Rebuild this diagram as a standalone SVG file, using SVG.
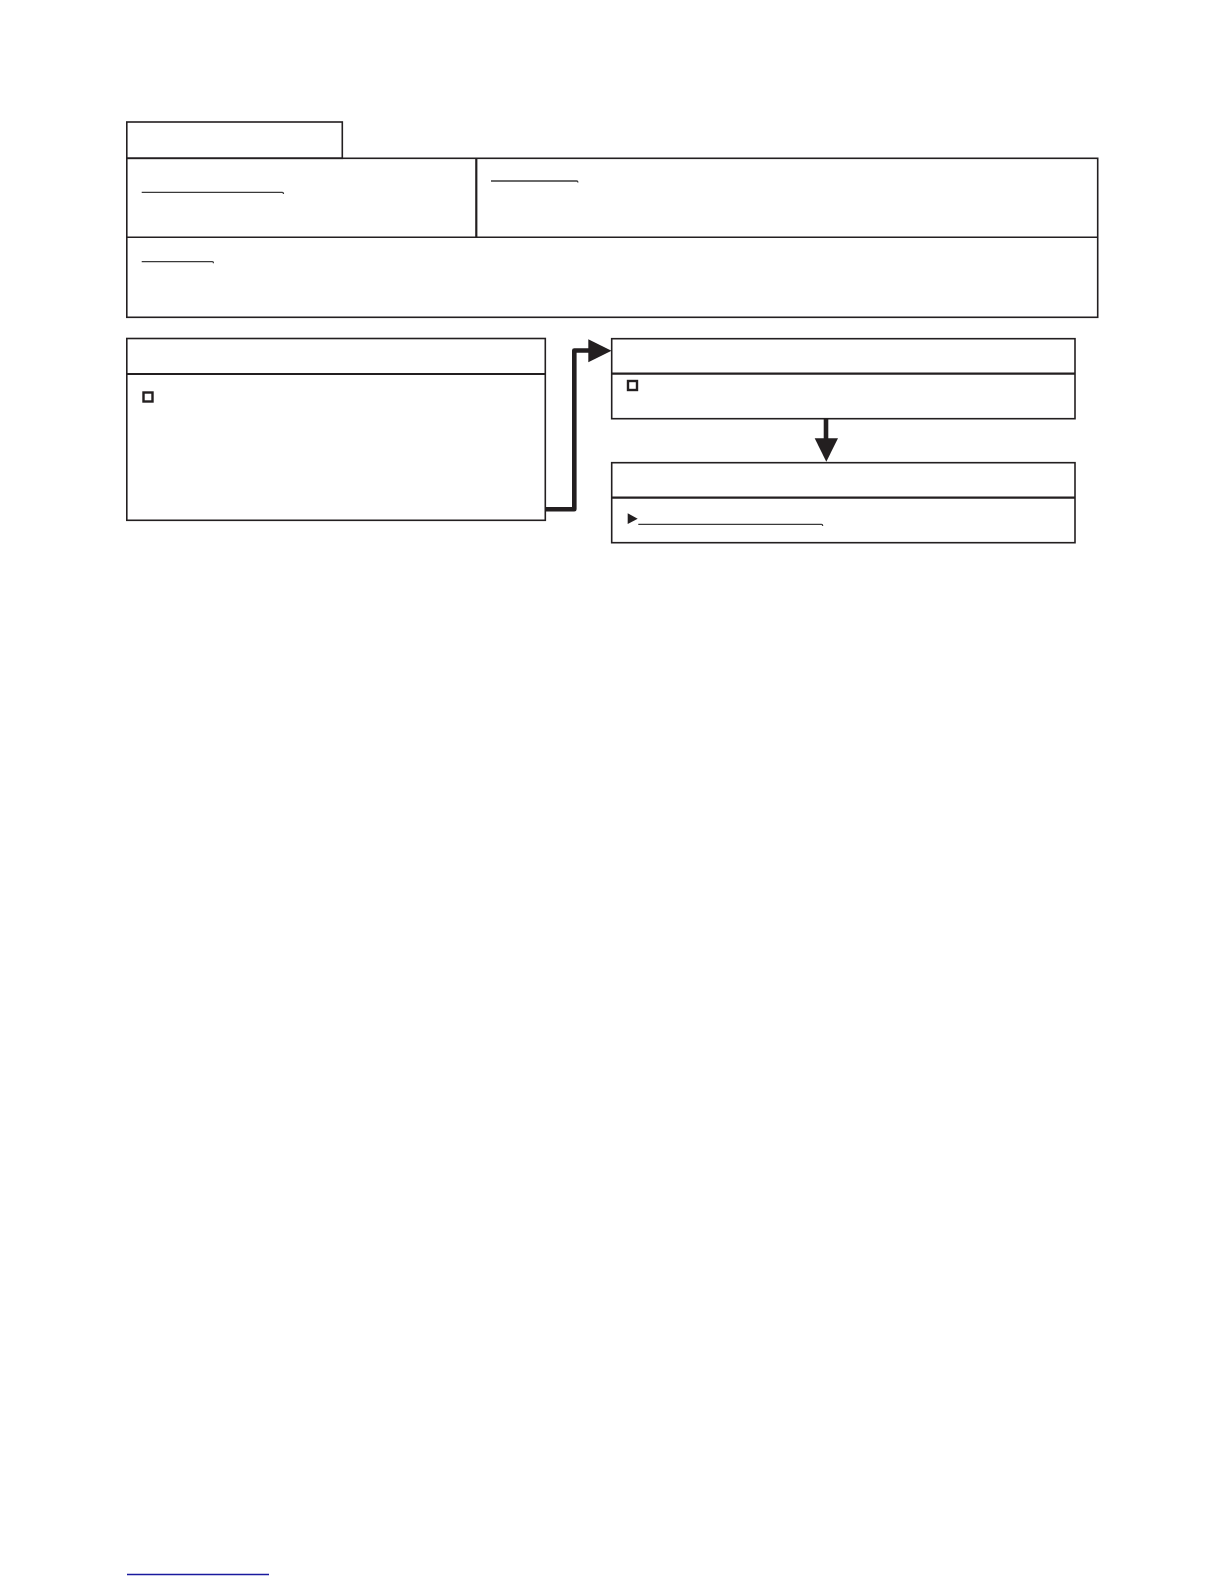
<svg xmlns="http://www.w3.org/2000/svg" width="1224" height="1584" viewBox="0 0 1224 1584">
<style>
.box{fill:none;stroke:#231f20;stroke-width:1.6}
.div{fill:none;stroke:#231f20;stroke-width:2.2}
.ul{fill:none;stroke:#3a3a3a;stroke-width:1.3}
.chk{fill:none;stroke:#231f20;stroke-width:2.4}
.conn{fill:none;stroke:#231f20;stroke-width:4.6;stroke-linejoin:round}
.head{fill:#231f20;stroke:none}
</style>
<rect width="1224" height="1584" fill="#ffffff"/>
<g id="header-form">
<rect class="box" x="126.8" y="122" width="215.5" height="36.3"/>
<rect class="box" x="126.8" y="158.3" width="970.9" height="159"/>
<line class="box" x1="126.8" y1="237.3" x2="1097.7" y2="237.3"/>
<line class="div" x1="476.3" y1="158.3" x2="476.3" y2="237.3"/>
<path class="ul" d="M141.7 192.3 H282.3 q1.2 0 1.2 1.6"/>
<path class="ul" d="M491 181 H576.7 q1.2 0 1.2 1.6"/>
<path class="ul" d="M141.7 261.7 H212.3 q1.2 0 1.2 1.6"/>
</g>
<g id="node-left">
<rect class="box" x="126.8" y="338.5" width="418.5" height="181.8"/>
<line class="div" x1="126.8" y1="374" x2="545.3" y2="374"/>
<rect class="chk" x="143.5" y="392.5" width="9" height="9"/>
</g>
<g id="node-top-right">
<rect class="box" x="611.7" y="338.7" width="463.3" height="80"/>
<line class="div" x1="611.7" y1="373.7" x2="1075" y2="373.7"/>
<rect class="chk" x="628" y="381" width="9" height="9"/>
</g>
<g id="node-bottom-right">
<rect class="box" x="611.7" y="462.7" width="463.3" height="80"/>
<line class="div" x1="611.7" y1="497.7" x2="1075" y2="497.7"/>
<polygon class="head" points="627.7,513.3 637.7,518.7 627.7,524"/>
<path class="ul" d="M638.3 524.3 H821.5 q1.2 0 1.2 1.6"/>
</g>
<g id="connectors">
<path class="conn" d="M545.3 509.3 H574.3 V350.5 H590"/>
<polygon class="head" points="588.3,339.3 611.5,350.8 588.3,362.3"/>
<line class="conn" x1="826" y1="418.7" x2="826" y2="440"/>
<polygon class="head" points="814.7,438.3 838,438.3 826.3,461.7"/>
</g>
<line x1="127" y1="1574.5" x2="269" y2="1574.5" stroke="#1a1a9e" stroke-width="1.5"/>
</svg>
